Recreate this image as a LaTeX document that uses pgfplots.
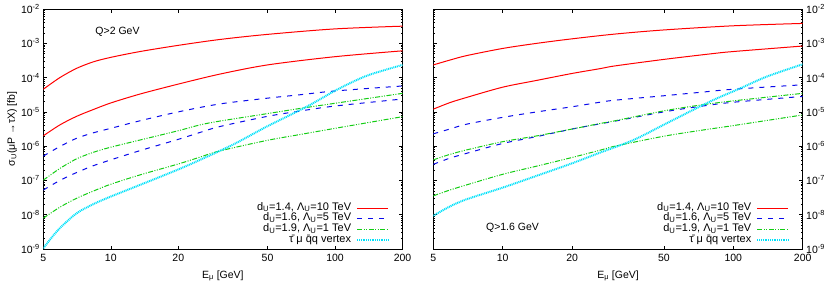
\documentclass[border=0pt]{standalone}
\usepackage{fontspec}
\setmainfont{Liberation Sans}
\usepackage{pgfplots}
\pgfplotsset{compat=1.18}
\definecolor{gred}{RGB}{255,0,0}
\definecolor{gblue}{RGB}{10,10,235}
\definecolor{ggreen}{RGB}{20,205,20}
\definecolor{gcyan}{RGB}{0,225,250}
\tikzset{
  rl/.style={gred, line width=1pt, smooth},
  bl/.style={gblue, line width=1pt, dash pattern=on 5pt off 6pt, smooth},
  gl/.style={ggreen, line width=1pt, dash pattern=on 5pt off 1.5pt on 1pt off 1.5pt on 1pt off 1.5pt, smooth},
  cl/.style={gcyan, line width=2pt, dash pattern=on 1pt off 0.8pt, smooth},
}
\begin{document}
\begin{tikzpicture}
\useasboundingbox (0,0) rectangle (830pt,285pt);
% ---------------- left panel: Q > 2 GeV ----------------
\begin{axis}[at={(43.3pt,36pt)}, anchor=south west, width=359.2pt,
    xmode=log, ymode=log, scale only axis, height=240pt,
    xmin=5, xmax=200, ymin=1e-9, ymax=1e-2,
    xtick={5,10,20,50,100,200}, xticklabels={5,10,20,50,100,200},
    xminorticks=false,
    ytick={1e-9,1e-8,1e-7,1e-6,1e-5,1e-4,1e-3,1e-2},
    yticklabels={10\textsuperscript{-9},10\textsuperscript{-8},10\textsuperscript{-7},10\textsuperscript{-6},10\textsuperscript{-5},10\textsuperscript{-4},10\textsuperscript{-3},10\textsuperscript{-2}},
    yminorticks=true,
    minor ytick={2e-9,3e-9,4e-9,5e-9,6e-9,7e-9,8e-9,9e-9,
                 2e-8,3e-8,4e-8,5e-8,6e-8,7e-8,8e-8,9e-8,
                 2e-7,3e-7,4e-7,5e-7,6e-7,7e-7,8e-7,9e-7,
                 2e-6,3e-6,4e-6,5e-6,6e-6,7e-6,8e-6,9e-6,
                 2e-5,3e-5,4e-5,5e-5,6e-5,7e-5,8e-5,9e-5,
                 2e-4,3e-4,4e-4,5e-4,6e-4,7e-4,8e-4,9e-4,
                 2e-3,3e-3,4e-3,5e-3,6e-3,7e-3,8e-3,9e-3},
    major tick length=3.5pt, minor tick length=1.8pt,
    tick style={black, line width=0.5pt},
    axis line style={line width=0.7pt},
    font=\fontsize{10.5}{12}\selectfont,
    xticklabel style={yshift=-1.5pt},
    xlabel={E\textsubscript{μ} [GeV]},
    xlabel style={at={(axis description cs:0.5,-0.121)}, anchor=base},
    ylabel={σ\textsubscript{U}(μP →τX) [fb]},
    ylabel style={at={(axis description cs:-0.087,0.5)}, anchor=center},
    legend plot pos=right,
    legend cell align=right,
    legend style={at={(axis description cs:1,0)}, anchor=south east, xshift=-13.2pt, yshift=3pt,
      draw=none, fill=none, inner sep=0pt, column sep=5pt, row sep=0pt,
      font=\fontsize{11}{12}\selectfont,
      nodes={inner sep=0pt, text height=7.5pt, text depth=3.3pt}},
    legend image code/.code={\draw[#1] (0pt,0pt) -- (31pt,0pt);},
  ]
\addplot[rl] coordinates {(5,4.57e-5) (5.93,1.00e-4) (7.04,1.86e-4) (8.36,2.88e-4) (10,3.89e-4) (13.5,5.75e-4) (20,8.71e-4) (30.6,1.29e-3) (50,1.82e-3) (100,2.63e-3) (200,3.16e-3)};
\addlegendentry{d\textsubscript{U}=1.4, Λ\textsubscript{U}=10 TeV}
\addplot[rl, forget plot] coordinates {(5,2.00e-6) (5.93,4.17e-6) (7.04,7.41e-6) (8.36,1.17e-5) (10,1.82e-5) (13.5,3.31e-5) (20,6.46e-5) (30.6,1.26e-4) (50,2.34e-4) (100,4.07e-4) (200,6.03e-4)};
\addplot[bl] coordinates {(5,5.13e-7) (5.93,9.77e-7) (7.04,1.70e-6) (8.36,2.45e-6) (10,3.31e-6) (13.5,5.50e-6) (20,1.00e-5) (30.6,1.70e-5) (50,2.51e-5) (70,3.16e-5) (100,4.07e-5) (200,5.69e-5)};
\addlegendentry{d\textsubscript{U}=1.6, Λ\textsubscript{U}=5 TeV}
\addplot[bl, forget plot] coordinates {(5,5.25e-8) (5.93,1.00e-7) (7.04,1.70e-7) (8.36,2.69e-7) (10,3.98e-7) (13.5,7.41e-7) (20,1.58e-6) (25,2.51e-6) (30.6,3.72e-6) (50,7.41e-6) (70,1.06e-5) (100,1.48e-5) (200,2.37e-5)};
\addplot[gl] coordinates {(5,1.02e-7) (5.93,2.24e-7) (7.04,4.27e-7) (8.36,6.61e-7) (10,9.33e-7) (13.5,1.51e-6) (20,2.82e-6) (25,4.17e-6) (30.6,5.37e-6) (50,8.91e-6) (70,1.26e-5) (100,1.78e-5) (200,3.47e-5)};
\addlegendentry{d\textsubscript{U}=1.9, Λ\textsubscript{U}=1 TeV}
\addplot[gl, forget plot] coordinates {(5,7.94e-9) (5.93,1.66e-8) (7.04,3.02e-8) (8.36,4.90e-8) (10,7.76e-8) (13.5,1.45e-7) (20,3.02e-7) (25,4.79e-7) (30.6,7.24e-7) (50,1.48e-6) (70,2.19e-6) (100,3.31e-6) (200,7.24e-6)};
\addplot[cl] coordinates {(5,1.05e-9) (5.35,1.86e-9) (5.93,4.07e-9) (7.04,1.10e-8) (8.36,2.04e-8) (10,3.39e-8) (13.5,7.41e-8) (20,2.09e-7) (25,3.98e-7) (35.2,1.12e-6) (49.6,3.72e-6) (74.7,1.41e-5) (101.6,4.37e-5) (138,1.12e-4) (200,2.34e-4)};
\addlegendentry{τ^^^^0304 μ q^^^^0304q vertex}
\end{axis}
% ---------------- right panel: Q > 1.6 GeV ----------------
\begin{axis}[at={(433.3pt,36pt)}, anchor=south west, width=369.4pt,
    xmode=log, ymode=log, scale only axis, height=240pt,
    xmin=5, xmax=200, ymin=1e-9, ymax=1e-2,
    xtick={5,10,20,50,100,200}, xticklabels={5,10,20,50,100,200},
    xminorticks=false,
    ytick={1e-9,1e-8,1e-7,1e-6,1e-5,1e-4,1e-3,1e-2},
    yticklabels={10\textsuperscript{-9},10\textsuperscript{-8},10\textsuperscript{-7},10\textsuperscript{-6},10\textsuperscript{-5},10\textsuperscript{-4},10\textsuperscript{-3},10\textsuperscript{-2}},
    yticklabel pos=right,
    yminorticks=true,
    minor ytick={2e-9,3e-9,4e-9,5e-9,6e-9,7e-9,8e-9,9e-9,
                 2e-8,3e-8,4e-8,5e-8,6e-8,7e-8,8e-8,9e-8,
                 2e-7,3e-7,4e-7,5e-7,6e-7,7e-7,8e-7,9e-7,
                 2e-6,3e-6,4e-6,5e-6,6e-6,7e-6,8e-6,9e-6,
                 2e-5,3e-5,4e-5,5e-5,6e-5,7e-5,8e-5,9e-5,
                 2e-4,3e-4,4e-4,5e-4,6e-4,7e-4,8e-4,9e-4,
                 2e-3,3e-3,4e-3,5e-3,6e-3,7e-3,8e-3,9e-3},
    major tick length=3.5pt, minor tick length=1.8pt,
    tick style={black, line width=0.5pt},
    axis line style={line width=0.7pt},
    font=\fontsize{10.5}{12}\selectfont,
    xticklabel style={yshift=-1.5pt},
    xlabel={E\textsubscript{μ} [GeV]},
    xlabel style={at={(axis description cs:0.5,-0.121)}, anchor=base},
    legend plot pos=right,
    legend cell align=right,
    legend style={at={(axis description cs:1,0)}, anchor=south east, xshift=-13.2pt, yshift=3pt,
      draw=none, fill=none, inner sep=0pt, column sep=5pt, row sep=0pt,
      font=\fontsize{11}{12}\selectfont,
      nodes={inner sep=0pt, text height=7.5pt, text depth=3.3pt}},
    legend image code/.code={\draw[#1] (0pt,0pt) -- (31pt,0pt);},
  ]
\addplot[rl] coordinates {(5,2.34e-4) (5.9,3.24e-4) (6.97,4.37e-4) (10,7.08e-4) (14.1,1.00e-3) (20,1.35e-3) (30.7,1.86e-3) (50,2.45e-3) (100,3.24e-3) (200,3.80e-3)};
\addlegendentry{d\textsubscript{U}=1.4, Λ\textsubscript{U}=10 TeV}
\addplot[rl, forget plot] coordinates {(5,1.20e-5) (5.9,1.86e-5) (6.97,2.63e-5) (10,5.25e-5) (14.1,8.32e-5) (20,1.32e-4) (26.4,1.82e-4) (30.7,2.19e-4) (50,3.39e-4) (79.3,4.90e-4) (100,5.75e-4) (200,8.32e-4)};
\addplot[bl] coordinates {(5,2.29e-6) (5.9,3.16e-6) (6.97,4.37e-6) (10,6.92e-6) (14.1,1.00e-5) (20,1.41e-5) (26.4,1.91e-5) (30.7,2.19e-5) (50,2.95e-5) (72,3.72e-5) (100,4.57e-5) (200,6.17e-5)};
\addlegendentry{d\textsubscript{U}=1.6, Λ\textsubscript{U}=5 TeV}
\addplot[bl, forget plot] coordinates {(5,2.95e-7) (5.9,4.47e-7) (6.97,6.17e-7) (10,1.20e-6) (14.1,1.91e-6) (20,3.16e-6) (26.4,4.47e-6) (30.7,5.37e-6) (50,1.00e-5) (72,1.45e-5) (100,1.91e-5) (200,2.82e-5)};
\addplot[gl] coordinates {(5,3.98e-7) (5.9,5.75e-7) (6.97,7.76e-7) (10,1.35e-6) (14.1,2.00e-6) (20,3.16e-6) (26.4,4.57e-6) (30.7,5.50e-6) (50,1.07e-5) (72,1.58e-5) (100,2.09e-5) (200,3.47e-5)};
\addlegendentry{d\textsubscript{U}=1.9, Λ\textsubscript{U}=1 TeV}
\addplot[gl, forget plot] coordinates {(5,3.55e-8) (5.9,5.25e-8) (6.97,7.41e-8) (10,1.51e-7) (14.1,2.63e-7) (20,4.68e-7) (26.4,7.59e-7) (30.7,1.00e-6) (50,1.95e-6) (72,2.88e-6) (100,3.98e-6) (200,8.13e-6)};
\addplot[cl] coordinates {(5,9.33e-9) (5.9,1.74e-8) (6.97,2.82e-8) (10,6.17e-8) (14.1,1.38e-7) (20,3.16e-7) (26.4,6.46e-7) (36.9,1.51e-6) (51.5,4.68e-6) (79.3,2.00e-5) (107.5,4.90e-5) (139.8,1.07e-4) (200,2.45e-4)};
\addlegendentry{τ^^^^0304 μ q^^^^0304q vertex}
\end{axis}
\node[anchor=base, font=\fontsize{10.5}{12}\selectfont] at (117.5pt,251pt) {Q>2 GeV};
\node[anchor=base, font=\fontsize{10.5}{12}\selectfont] at (512.5pt,55pt) {Q>1.6 GeV};
\end{tikzpicture}
\end{document}
